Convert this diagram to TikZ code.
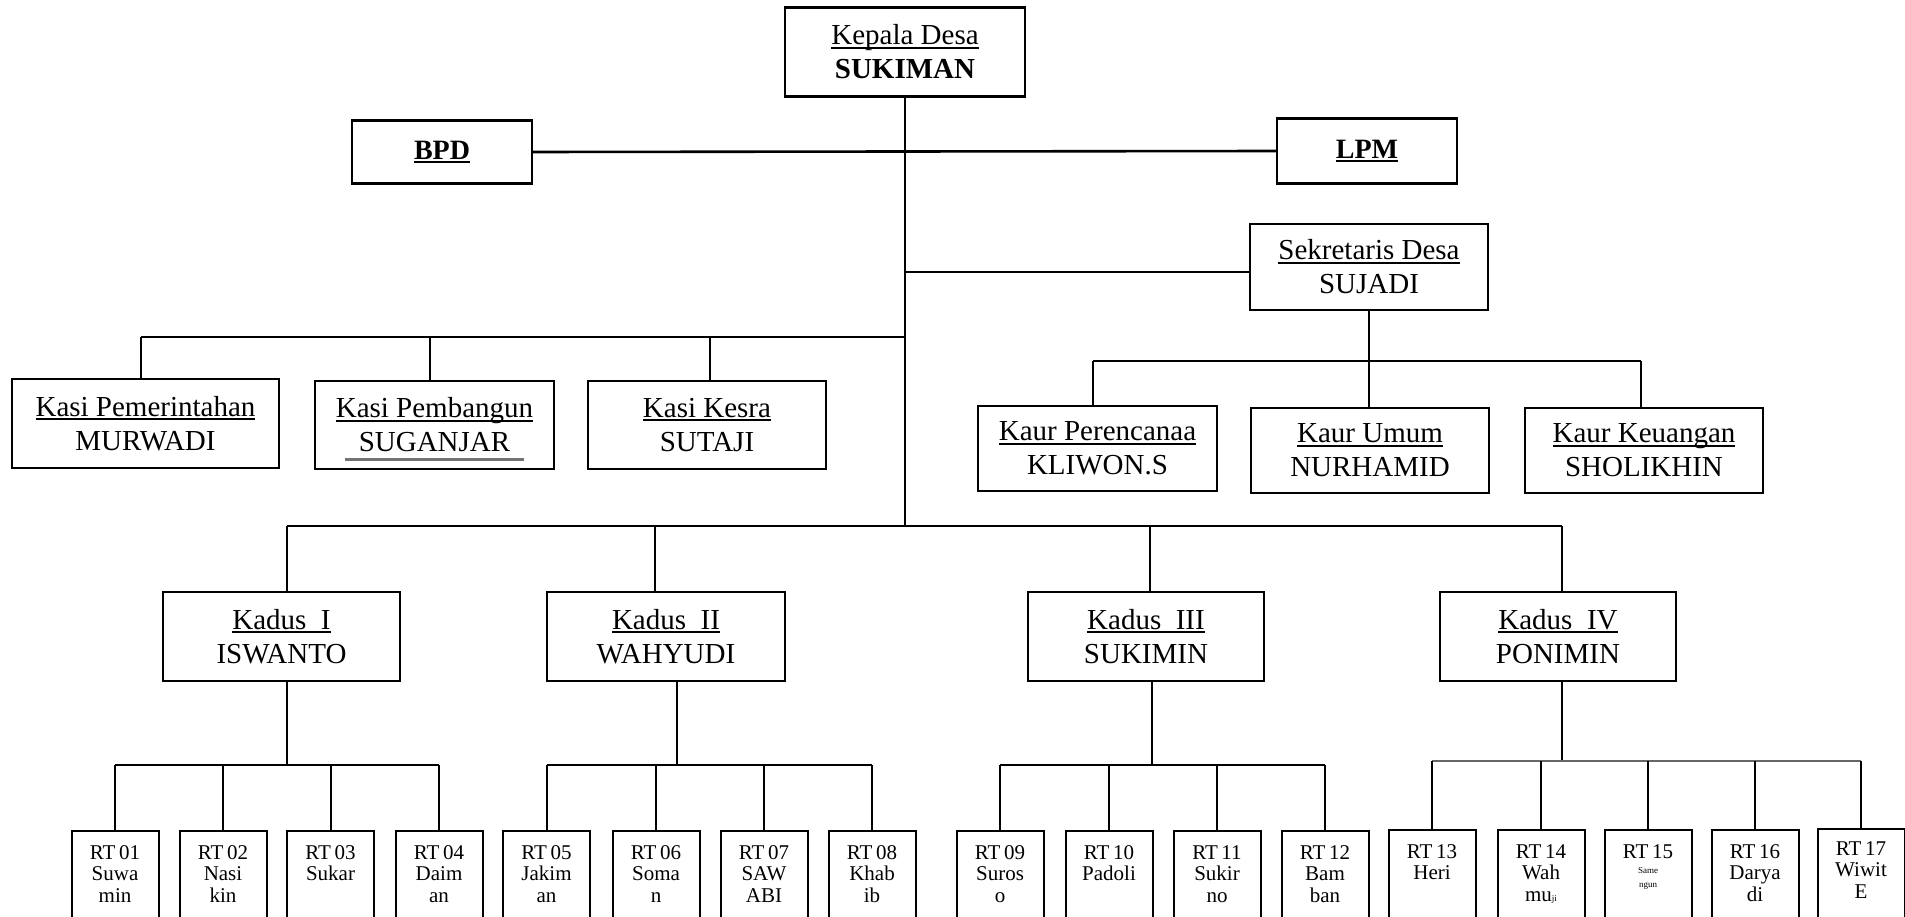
\documentclass[tikz,border=0pt]{standalone}
\usepackage{fontspec}
\setmainfont{Liberation Serif}
\newcommand{\ulin}[1]{\setbox0=\hbox{#1}\rlap{\rule[-4pt]{\wd0}{2.2pt}}\box0}
\newcommand{\ulgray}[1]{\setbox0=\hbox{#1}\rlap{\kern-14pt\smash{\textcolor{black!55}{\rule[-9pt]{\dimexpr\wd0+28pt\relax}{2.5pt}}}}\box0}
\tikzset{
  box/.style={draw, line width=2.2pt, rectangle, align=center, inner sep=0pt, font=\fontsize{29}{34}\selectfont},
  conn/.style={line width=2pt},
  rtbox/.style={draw, line width=2pt, anchor=north, minimum width=87pt, minimum height=100pt, inner sep=0pt},
  rttext/.style={anchor=north, align=center, inner sep=0pt, font=\fontsize{21}{21.5}\selectfont},
}
\begin{document}
\begin{tikzpicture}[x=1pt,y=-1pt]
\useasboundingbox (0,0) rectangle (1905,917);
\clip (0,0) rectangle (1905,917);
\fill[white] (0,0) rectangle (1905,917);

% top
\node[box, minimum width=240pt, minimum height=89pt] (kepala) at (905,52) {\ulin{Kepala Desa}\\\textbf{SUKIMAN}};
\node[box, minimum width=180pt, minimum height=63pt, font=\fontsize{28}{32}\selectfont\bfseries] (bpd) at (442,152) {\ulin{BPD}};
\node[box, minimum width=180pt, minimum height=65pt, font=\fontsize{28}{32}\selectfont\bfseries] (lpm) at (1367,151) {\ulin{LPM}};
\node[box, minimum width=238pt, minimum height=86pt] (sek) at (1369,267) {\ulin{Sekretaris Desa}\\SUJADI};

% kasi
\node[box, minimum width=267pt, minimum height=89pt] (kasi1) at (145.5,423.5) {\ulin{Kasi Pemerintahan}\\MURWADI};
\node[box, minimum width=239pt, minimum height=88pt] (kasi2) at (434.5,425) {\ulin{Kasi Pembangun}\\\ulgray{SUGANJAR}};
\node[box, minimum width=238pt, minimum height=88pt] (kasi3) at (707,425) {\ulin{Kasi Kesra}\\SUTAJI};

% kaur
\node[box, minimum width=239pt, minimum height=85pt] (kaur1) at (1097.5,448.5) {\ulin{Kaur Perencanaa}\\KLIWON.S};
\node[box, minimum width=238pt, minimum height=85pt] (kaur2) at (1370,450.5) {\ulin{Kaur Umum}\\NURHAMID};
\node[box, minimum width=238pt, minimum height=85pt] (kaur3) at (1644,450.5) {\ulin{Kaur Keuangan}\\SHOLIKHIN};

% kadus
\node[box, minimum width=237pt, minimum height=89pt] (kadus1) at (281.5,636.5) {\ulin{Kadus\ \ I}\\ISWANTO};
\node[box, minimum width=238pt, minimum height=89pt] (kadus2) at (666,636.5) {\ulin{Kadus\ \ II}\\WAHYUDI};
\node[box, minimum width=236pt, minimum height=89pt] (kadus3) at (1146,636.5) {\ulin{Kadus\ \ III}\\SUKIMIN};
\node[box, minimum width=236pt, minimum height=89pt] (kadus4) at (1558,636.5) {\ulin{Kadus\ \ IV}\\PONIMIN};

% RT boxes
\foreach \n/\x/\t in {1/115/830, 2/223/830, 3/330.5/830, 4/439/830,
                      5/546.5/830, 6/656/830, 7/764/830, 8/872/830,
                      9/1000/830, 10/1109/830, 11/1217/830, 12/1325/830,
                      13/1432/829, 14/1541/829, 15/1648/829, 16/1755/829, 17/1861/828}
  \node[rtbox] (rt\n) at (\x,\t) {};

\node[rttext] at ([yshift=-15pt]rt1.north) {RT\,01\\Suwa\\min};
\node[rttext] at ([yshift=-15pt]rt2.north) {RT\,02\\Nasi\\kin};
\node[rttext] at ([yshift=-15pt]rt3.north) {RT\,03\\Sukar};
\node[rttext] at ([yshift=-15pt]rt4.north) {RT\,04\\Daim\\an};
\node[rttext] at ([yshift=-15pt]rt5.north) {RT\,05\\Jakim\\an};
\node[rttext] at ([yshift=-15pt]rt6.north) {RT\,06\\Soma\\n};
\node[rttext] at ([yshift=-15pt]rt7.north) {RT\,07\\SAW\\ABI};
\node[rttext] at ([yshift=-15pt]rt8.north) {RT\,08\\Khab\\ib};
\node[rttext] at ([yshift=-15pt]rt9.north) {RT\,09\\Suros\\o};
\node[rttext] at ([yshift=-15pt]rt10.north) {RT\,10\\Padoli};
\node[rttext] at ([yshift=-15pt]rt11.north) {RT\,11\\Sukir\\no};
\node[rttext] at ([yshift=-15pt]rt12.north) {RT\,12\\Bam\\ban};
\node[rttext] at ([yshift=-15pt]rt13.north) {RT\,13\\Heri};
\node[rttext] at ([yshift=-15pt]rt14.north) {RT\,14\\Wah\\mu{\fontsize{9}{9}\selectfont ji}};
\node[rttext] at ([yshift=-15pt]rt15.north) {RT\,15\\[-6pt]{\fontsize{9}{9}\selectfont Same}\\[-8pt]{\fontsize{9}{9}\selectfont ngun}};
\node[rttext] at ([yshift=-15pt]rt16.north) {RT\,16\\Darya\\di};
\node[rttext] at ([yshift=-13pt]rt17.north) {RT\,17\\Wiwit\\E};

% coordinates
\coordinate (mSek) at (905,272);
\coordinate (mKasi) at (905,337);
\coordinate (mKadus) at (905,526);
\coordinate (ks1) at (141,337);
\coordinate (ks2) at (430,337);
\coordinate (ks3) at (710,337);
\coordinate (kr1) at (1093,361);
\coordinate (kr2) at (1369,361);
\coordinate (kr3) at (1641,361);
\coordinate (kd1) at (287,526);
\coordinate (kd2) at (655,526);
\coordinate (kd3) at (1150,526);
\coordinate (kd4) at (1562,526);
\coordinate (g1) at (287,765);
\coordinate (g2) at (677,765);
\coordinate (g3) at (1152,765);
\coordinate (g4) at (1562,761);

% main connectors
\draw[conn] (kepala.south) -- (mKadus);
\draw[conn, line width=2.6pt] (bpd.east) -- (lpm.west);
\draw[conn] (mSek) -- (sek.west |- mSek);
\draw[conn] (mKasi) -- (ks1);
\draw[conn] (ks1) -- (ks1 |- kasi1.north);
\draw[conn] (ks2) -- (ks2 |- kasi2.north);
\draw[conn, line width=1.5pt] (ks3) -- (ks3 |- kasi3.north);
\draw[conn, line width=1.5pt] (sek.south) -- (kr2);
\draw[conn] (kr1) -- (kr3);
\draw[conn] (kr1) -- (kr1 |- kaur1.north);
\draw[conn] (kr2) -- (kr2 |- kaur2.north);
\draw[conn] (kr3) -- (kr3 |- kaur3.north);
\draw[conn] (kd1) -- (kd4);
\draw[conn] (kd1) -- (kd1 |- kadus1.north);
\draw[conn] (kd2) -- (kd2 |- kadus2.north);
\draw[conn] (kd3) -- (kd3 |- kadus3.north);
\draw[conn] (kd4) -- (kd4 |- kadus4.north);

% kadus to RT
\draw[conn] (g1 |- kadus1.south) -- (g1);
\draw[conn] (g2 |- kadus2.south) -- (g2);
\draw[conn] (g3 |- kadus3.south) -- (g3);
\draw[conn] (g4 |- kadus4.south) -- (g4);

\draw[conn] (rt1.north |- g1) -- (rt4.north |- g1);
\draw[conn] (rt5.north |- g2) -- (rt8.north |- g2);
\draw[conn] (rt9.north |- g3) -- (rt12.north |- g3);
\draw[conn, draw=black!60, line width=2.6pt] (rt13.north |- g4) -- (rt17.north |- g4);

\foreach \i in {1,2,3,4} \draw[conn] (rt\i.north |- g1) -- (rt\i.north);
\foreach \i in {5,6,7,8} \draw[conn] (rt\i.north |- g2) -- (rt\i.north);
\foreach \i in {9,10,11,12} \draw[conn] (rt\i.north |- g3) -- (rt\i.north);
\foreach \i in {13,14,15,16,17} \draw[conn] (rt\i.north |- g4) -- (rt\i.north);
\end{tikzpicture}
\end{document}
